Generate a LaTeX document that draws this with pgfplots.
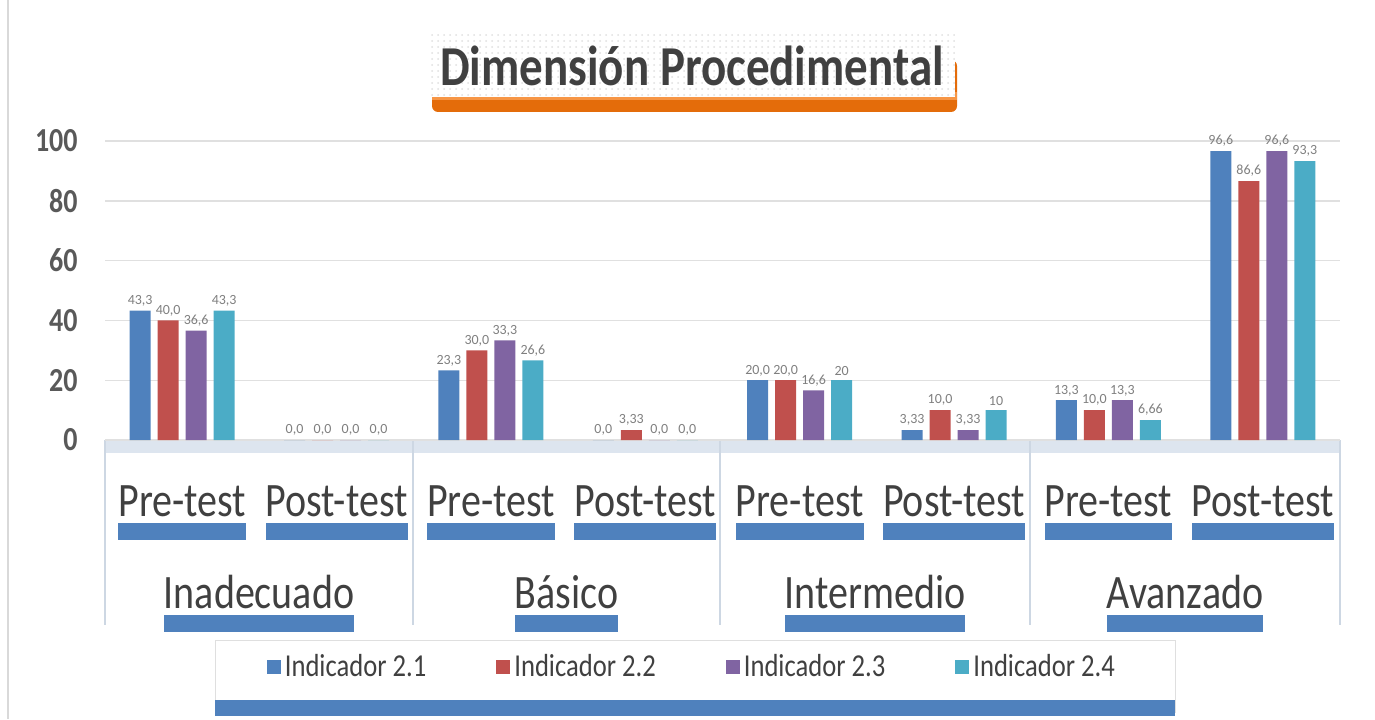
\documentclass[border=0pt]{standalone}
\usepackage{pgfplots}
\pgfplotsset{compat=1.18}
\usepackage{pgfplotstable}
\usepackage{fontspec}
\setmainfont{Carlito}
\usetikzlibrary{patterns}
\definecolor{c1}{HTML}{4F81BD}
\definecolor{c2}{HTML}{C0504D}
\definecolor{c3}{HTML}{8064A2}
\definecolor{c4}{HTML}{4BACC6}
\definecolor{txt}{HTML}{404040}
\definecolor{ticktxt}{HTML}{595959}
\definecolor{lab}{HTML}{7F7F7F}
\definecolor{ubar}{HTML}{4F81BD}
\definecolor{sep}{HTML}{CDD7E3}
\definecolor{band}{HTML}{DDE5EF}
\definecolor{gridc}{HTML}{E0E0E0}
\definecolor{orA}{HTML}{F79646}
\definecolor{orB}{HTML}{E46C0A}
\newcommand\vs[1]{\scalebox{1}[1.2]{#1}}
\newsavebox\labbox
\newcommand\ulab[1]{\sbox\labbox{\vs{#1}}\vbox{\offinterlineskip\hbox{\usebox\labbox}\kern3pt\hbox{\textcolor{ubar}{\rule{\wd\labbox}{8.5pt}}}}}

\pgfplotstableread{
x y lab
0 43.3 43,3
1 0 0,0
2 23.3 23,3
3 0 0,0
4 20 20,0
5 3.33 3,33
6 13.3 13,3
7 96.6 96,6
}\dA
\pgfplotstableread{
x y lab
0 40 40,0
1 0 0,0
2 30 30,0
3 3.33 3,33
4 20 20,0
5 10 10,0
6 10 10,0
7 86.6 86,6
}\dB
\pgfplotstableread{
x y lab
0 36.6 36,6
1 0 0,0
2 33.3 33,3
3 0 0,0
4 16.6 16,6
5 3.33 3,33
6 13.3 13,3
7 96.6 96,6
}\dC
\pgfplotstableread{
x y lab
0 43.3 43,3
1 0 0,0
2 26.6 26,6
3 0 0,0
4 20 20
5 10 10
6 6.66 6,66
7 93.3 93,3
}\dD

\begin{document}
\begin{tikzpicture}
\begin{scope}[x=0.5pt,y=-0.5pt,shift={(0,359.5pt)}]
\path[use as bounding box] (0,0) rectangle (1375,719);
\draw[gray!30,line width=1pt] (8,0) -- (8,719);
% title box
\fill[orB,rounded corners=3pt] (432,60) rectangle (957,112);
\fill[orA] (432,92) rectangle (957,100);
\fill[white] (430,35) rectangle (955,97);
\fill[pattern=dots,pattern color=black!12] (430,35) rectangle (955,97);
\node[text=txt,font=\bfseries\fontsize{23.5}{28}\selectfont] at (692,66) {\vs{Dimensión Procedimental}};
% category table
\fill[band] (105,440) rectangle (1340,453);
\foreach \xx in {105,413,720,1030,1340}{\draw[sep,line width=1.3pt] (\xx,440) -- (\xx,625);}
\foreach \xx/\tt in {259/Inadecuado,566.5/Básico,875/Intermedio,1185/Avanzado}{
  \node[anchor=north,inner sep=0pt,text=txt,font=\fontsize{20}{24}\selectfont] at (\xx,575) {\ulab{\tt}};}
% legend box
\draw[gray!25,fill=white] (215,640) rectangle (1175,712);
\fill[ubar] (215,700) rectangle (1175,716);
\end{scope}
\begin{axis}[at={(52.5pt,139.5pt)}, anchor=south west, scale only axis,
  width=617.5pt, height=149.5pt,
  ymin=0, ymax=100, xmin=-0.5, xmax=7.5,
  ytick={0,20,...,100}, ymajorgrids, grid style={draw=gridc,line width=0.7pt},
  axis line style={draw=none}, major tick length=0pt,
  xtick={0,...,7},
  xticklabels={\ulab{Pre-test},\ulab{Post-test},\ulab{Pre-test},\ulab{Post-test},\ulab{Pre-test},\ulab{Post-test},\ulab{Pre-test},\ulab{Post-test}},
  xticklabel style={font=\fontsize{20}{24}\selectfont, text=txt, anchor=north, inner sep=0pt, yshift=-22.5pt},
  yticklabel={\vs{\pgfmathprintnumber[assume math mode=true]{\tick}}},
  yticklabel style={font=\bfseries\fontsize{14}{16}\selectfont, text=ticktxt, anchor=east, inner sep=0pt, xshift=-13.5pt},
  ybar=3.5pt, bar width=10.5pt,
  nodes near coords, point meta=explicit symbolic,
  nodes near coords style={font=\fontsize{7}{8}\selectfont, text=lab, inner sep=2pt},
  clip=false,
  legend columns=4,
  legend style={at={(0.476,-0.759)}, anchor=center, draw=none, fill=none,
    font=\fontsize{13.3}{15}\selectfont, text=txt,
    /tikz/every even column/.append style={column sep=33pt}},
  legend image code/.code={\fill[#1] (0pt,-3.5pt) rectangle (7pt,3.5pt);},
]
\addplot[fill=c1,draw=none] table[x=x,y=y,meta=lab]{\dA};
\addplot[fill=c2,draw=none] table[x=x,y=y,meta=lab]{\dB};
\addplot[fill=c3,draw=none] table[x=x,y=y,meta=lab]{\dC};
\addplot[fill=c4,draw=none] table[x=x,y=y,meta=lab]{\dD};
\legend{\vs{Indicador 2.1},\vs{Indicador 2.2},\vs{Indicador 2.3},\vs{Indicador 2.4}}
\end{axis}
\end{tikzpicture}
\end{document}
